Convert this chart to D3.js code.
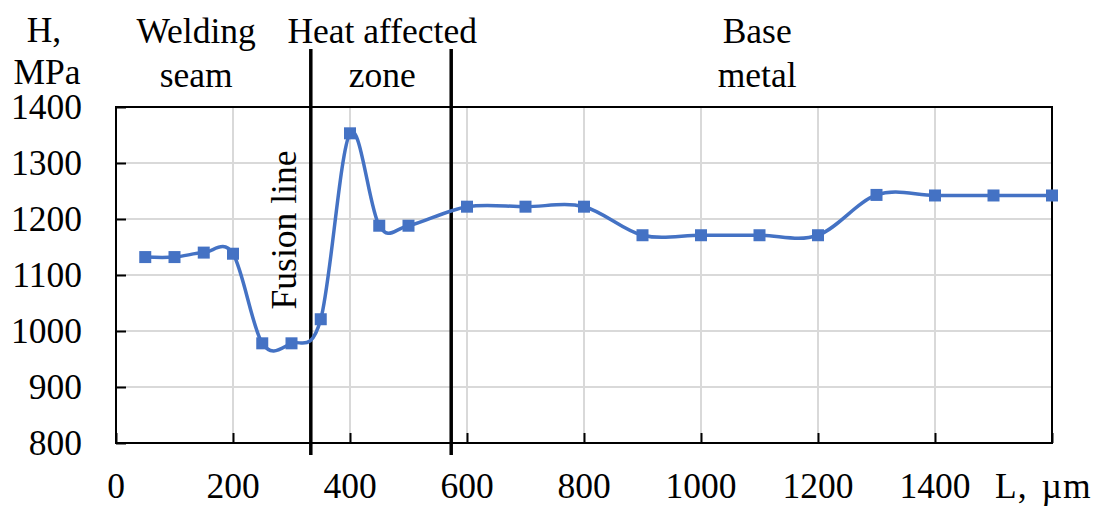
<!DOCTYPE html>
<html>
<head>
<meta charset="utf-8">
<script src="https://cdn.jsdelivr.net/npm/d3@7"></script>
<style>
  body { margin: 0; background: #fff; }
</style>
</head>
<body>
<div id="chart"></div>
<script>
// distance from weld centre, µm
const distance = [50, 100, 150, 200, 250, 300, 350, 400, 450, 500, 600, 700, 800, 900, 1000, 1100, 1200, 1300, 1400, 1500, 1600];
// microhardness, MPa
const hardness = [1132, 1132, 1140, 1138, 978, 978, 1021, 1353, 1188, 1188, 1222, 1222, 1222, 1171, 1171, 1171, 1171, 1243, 1242, 1242, 1242];

const xTicks = [0, 200, 400, 600, 800, 1000, 1200, 1400];
const yTicks = [800, 900, 1000, 1100, 1200, 1300, 1400];
const zoneBorders = [333, 573]; // fusion line, HAZ / base metal
const zoneLabels = [
  { x: 137, lines: ['Welding', 'seam'] },
  { x: 455, lines: ['Heat affected', 'zone'] },
  { x: 1096, lines: ['Base', 'metal'] }
];

const width = 1095, height = 506;
const lineColor = '#4472c4', gridColor = '#d9d9d9';
const fontSize = 35.5;

// pick the first serif family that is really installed
function pickFont(candidates) {
  const ctx = document.createElement('canvas').getContext('2d');
  const probe = 'Welding affected 1400 MPa';
  const w = f => { ctx.font = '34px ' + f; return ctx.measureText(probe).width; };
  const mono = w('monospace');
  for (const c of candidates) {
    if (Math.abs(w('"' + c + '", monospace') - mono) > 0.5) return '"' + c + '"';
  }
  return 'serif';
}
const serif = pickFont(['Liberation Serif', 'Times New Roman', 'Tinos', 'DejaVu Serif', 'Noto Serif', 'FreeSerif']);

const svg = d3.select('#chart').append('svg')
  .attr('width', width)
  .attr('height', height)
  .style('font-family', serif);

const x = d3.scaleLinear().domain([0, 1600]).range([116, 1052]);
const y = d3.scaleLinear().domain([800, 1400]).range([443, 107]);

// grid
svg.append('g').selectAll('line')
  .data(xTicks.filter(d => d > 0))
  .enter().append('line')
  .attr('x1', d => x(d)).attr('x2', d => x(d))
  .attr('y1', y(800)).attr('y2', y(1400))
  .attr('stroke', gridColor).attr('stroke-width', 2);
svg.append('g').selectAll('line')
  .data(yTicks.filter(d => d > 800 && d < 1400))
  .enter().append('line')
  .attr('x1', x(0)).attr('x2', x(1600))
  .attr('y1', d => y(d)).attr('y2', d => y(d))
  .attr('stroke', gridColor).attr('stroke-width', 2);

// axes with inner ticks
const xAxis = svg.append('g')
  .attr('transform', 'translate(0,' + y(800) + ')')
  .call(d3.axisTop(x).tickValues(xTicks.concat([1600])).tickSize(10).tickFormat(''));
const yAxis = svg.append('g')
  .attr('transform', 'translate(' + x(0) + ',0)')
  .call(d3.axisRight(y).tickValues(yTicks).tickSize(10).tickFormat(''));
[xAxis, yAxis].forEach(a => {
  a.select('.domain').remove();
  a.selectAll('line').attr('stroke', '#000').attr('stroke-width', 2);
});

// plot frame
svg.append('rect')
  .attr('x', x(0)).attr('y', y(1400))
  .attr('width', x(1600) - x(0)).attr('height', y(800) - y(1400))
  .attr('fill', 'none').attr('stroke', '#000').attr('stroke-width', 2);

function label(tx, ty, t, anchor) {
  return svg.append('text')
    .attr('x', tx).attr('y', ty)
    .attr('text-anchor', anchor || 'middle')
    .style('font-family', serif)
    .style('font-size', fontSize + 'px')
    .attr('fill', '#000')
    .text(t);
}

// tick labels
xTicks.forEach(d => label(x(d), 498, d));
label(995, 498, 'L, \u00b5m', 'start').style('word-spacing', '4px').style('letter-spacing', '1px');
yTicks.forEach(d => label(82, y(d) + 12, d, 'end'));
label(44, 42, 'H,');
label(47, 84, 'MPa');

// zone borders
svg.append('g').selectAll('line')
  .data(zoneBorders)
  .enter().append('line')
  .attr('x1', d => x(d)).attr('x2', d => x(d))
  .attr('y1', 49).attr('y2', 455)
  .attr('stroke', '#000').attr('stroke-width', 3.5);

// zone captions
zoneLabels.forEach(z => {
  z.lines.forEach((t, i) => label(x(z.x), 43 + i * 44, t));
});

label(0, 0, 'Fusion line')
  .attr('transform', 'translate(296,230) rotate(-90)');

// hardness curve
const points = distance.map((d, i) => [d, hardness[i]]);
const line = d3.line()
  .x(d => x(d[0]))
  .y(d => y(d[1]))
  .curve(d3.curveCatmullRom.alpha(0));

svg.append('path')
  .datum(points)
  .attr('d', line)
  .attr('fill', 'none')
  .attr('stroke', lineColor)
  .attr('stroke-width', 3.5);

const ms = 12;
svg.append('g').selectAll('rect')
  .data(points)
  .enter().append('rect')
  .attr('x', d => x(d[0]) - ms / 2)
  .attr('y', d => y(d[1]) - ms / 2)
  .attr('width', ms).attr('height', ms)
  .attr('fill', lineColor);
</script>
</body>
</html>
